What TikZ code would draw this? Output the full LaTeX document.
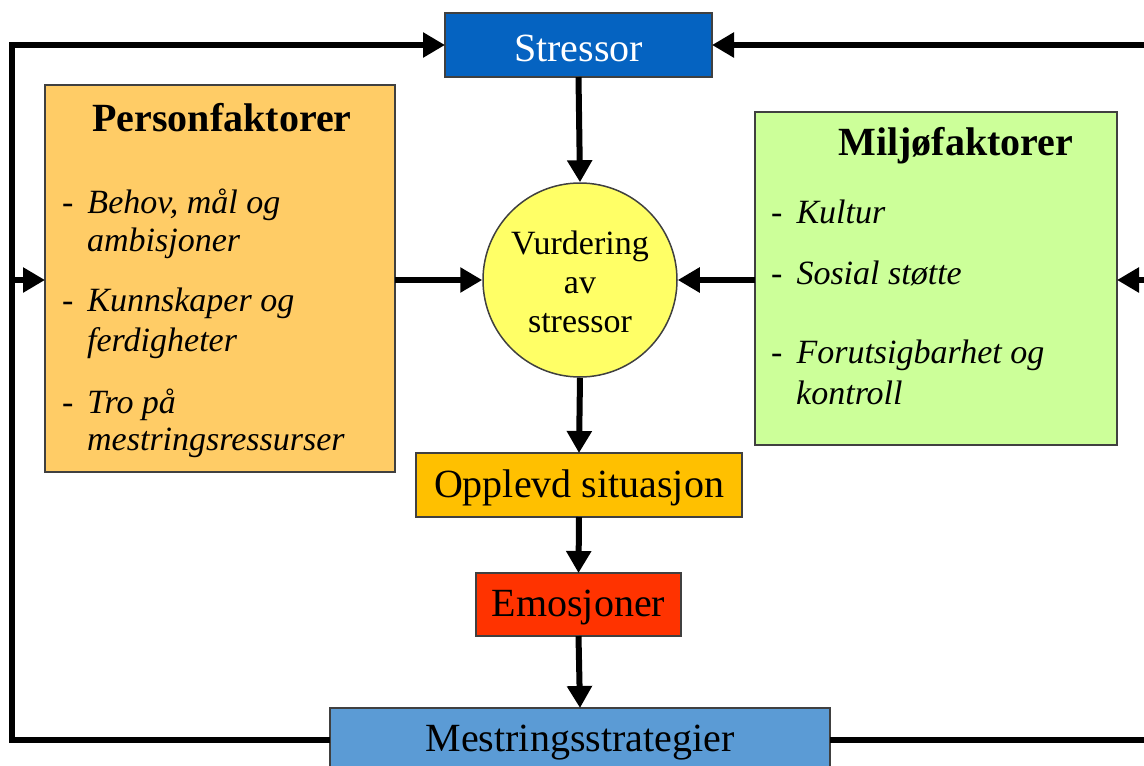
\documentclass[tikz,border=0pt]{standalone}
\usepackage{fontspec}
\setmainfont{Liberation Serif}
\usetikzlibrary{arrows.meta}
\definecolor{cstress}{HTML}{0563C1}
\definecolor{cperson}{HTML}{FFCC66}
\definecolor{cmiljo}{HTML}{CCFF99}
\definecolor{ccirc}{HTML}{FFFF66}
\definecolor{copp}{HTML}{FFC000}
\definecolor{cemo}{HTML}{FF3300}
\definecolor{cmest}{HTML}{5B9BD5}
\definecolor{cborder}{HTML}{404040}
\begin{document}
\begin{tikzpicture}[x=1pt,y=-1pt,
  box/.style={draw=cborder,line width=1.5pt,inner sep=0pt,outer sep=0pt,anchor=north west},
  big/.style={font=\fontsize{40}{40}\selectfont,yshift=-3pt},
  item/.style={font=\fontsize{34}{38}\selectfont\itshape,anchor=west,inner sep=0pt},
  arr/.style={line width=6pt,-{Triangle[length=22pt,width=24pt]}},
  ln/.style={line width=6pt}]
\useasboundingbox (0,0) rectangle (1144,766);
% boxes
\node[box,fill=cstress,minimum width=267pt,minimum height=64pt] (stressor) at (445,13) {};
\node[big,text=white] at (stressor.center) {Stressor};
\node[box,fill=cperson,minimum width=350pt,minimum height=387pt] (person) at (45,85) {};
\node[box,fill=cmiljo,minimum width=362pt,minimum height=333pt] (miljo) at (755,112) {};
\node[draw=cborder,line width=1.5pt,fill=ccirc,circle,minimum size=194pt,inner sep=0pt] (circ) at (580,280) {};
\node[box,fill=copp,minimum width=326pt,minimum height=64pt] (opp) at (416,453) {};
\node[box,fill=cemo,minimum width=205pt,minimum height=63pt] (emo) at (476,573) {};
\node[box,fill=cmest,minimum width=500pt,minimum height=66pt] (mest) at (330,708) {};
% texts
\node[font=\fontsize{40}{40}\selectfont\bfseries] (ptitle) at (222,118) {Personfaktorer};
\node[item] (p1a) at (62,205) {-\hspace{14pt}Behov, mål og};
\node[item] (p1b) at (87,243) {ambisjoner};
\node[item] (p2a) at (62,303) {-\hspace{14pt}Kunnskaper og};
\node[item] (p2b) at (87,343) {ferdigheter};
\node[item] (p3a) at (62,405) {-\hspace{14pt}Tro på};
\node[item] (p3b) at (87,443) {mestringsressurser};
\node[font=\fontsize{40}{40}\selectfont\bfseries] (mtitle) at (956,146) {Miljøfaktorer};
\node[item] (m1) at (771,212) {-\hspace{14pt}Kultur};
\node[item] (m2) at (771,273) {-\hspace{14pt}Sosial støtte};
\node[item] (m3a) at (771,355) {-\hspace{14pt}Forutsigbarhet og};
\node[item] (m3b) at (796,393) {kontroll};
\node[font=\fontsize{34}{39}\selectfont,align=center] (ctext) at ([yshift=-2pt]circ.center) {Vurdering\\av\\stressor};
\node[big] (topp) at (opp.center) {Opplevd situasjon};
\node[big] (temo) at (emo.center) {Emosjoner};
\node[big] (tmest) at (mest.north |- 0,740) {Mestringsstrategier};
% coordinates for loop
\coordinate (tl) at (12,45);
\coordinate (bl) at (12,740);
\coordinate (ml) at (12,280);
\coordinate (tr) at (1160,45);
\coordinate (br) at (1160,740);
\coordinate (mr) at (1160,280);
% connectors
\draw[arr] (stressor.south) -- (circ.north);
\draw[arr] (circ.west -| person.east) -- (circ.west);
\draw[arr] (circ.east -| miljo.west) -- (circ.east);
\draw[arr] (circ.south) -- (opp.north);
\draw[arr] (opp.south) -- (emo.north);
\draw[arr] (emo.south) -- (mest.north);
\draw[ln,line join=miter] (mest.west |- bl) -- (bl) -- (tl) -- ++(10,0);
\draw[arr] ([xshift=-3pt]tl) -- (stressor.west);
\draw[arr] (ml) -- (ml -| person.west);
\draw[arr] (tr) -- (stressor.east);
\draw[arr] (mr) -- (mr -| miljo.east);
\draw[ln] (mest.east |- br) -- (br);
\end{tikzpicture}
\end{document}
